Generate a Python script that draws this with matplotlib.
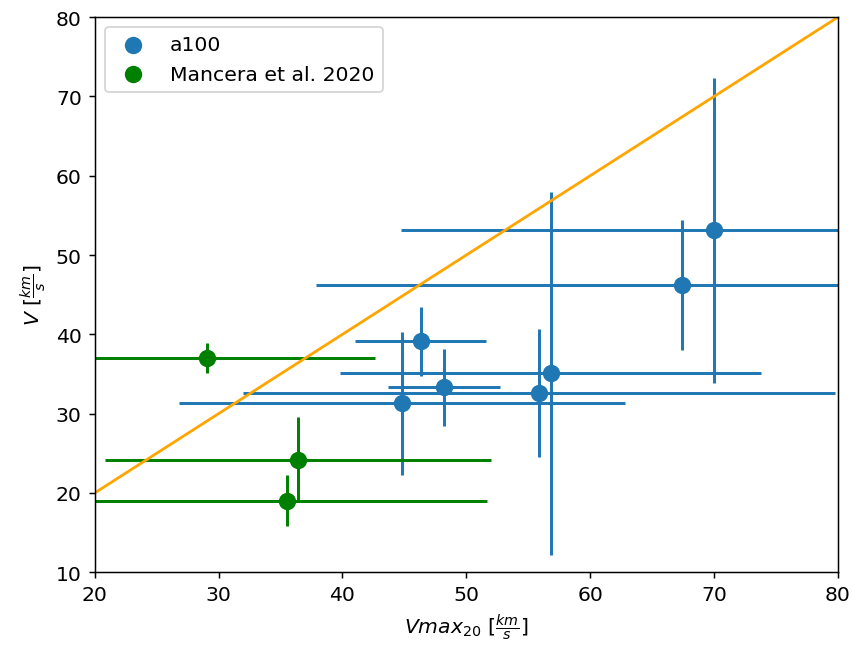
import matplotlib
matplotlib.use("Agg")
import matplotlib.pyplot as plt
import numpy as np

plt.rcParams['font.size'] = 11

# a100 sample: Vmax_20 vs V with errors
a100_vmax = [44.8, 46.3, 48.2, 55.9, 56.8, 67.4, 70.0]
a100_vmax_err = [18.0, 5.3, 4.5, 23.9, 17.0, 29.5, 25.3]
a100_v = [31.3, 39.1, 33.3, 32.6, 35.1, 46.2, 53.1]
a100_v_err = [9.0, 4.4, 4.8, 8.1, 22.9, 8.2, 19.2]

# Mancera et al. 2020
man_vmax = [29.1, 36.4, 35.5]
man_vmax_err = [13.5, 15.6, 16.2]
man_v = [37.0, 24.2, 19.0]
man_v_err = [1.9, 5.4, 3.2]

fig = plt.figure(figsize=(6.4, 4.8525), dpi=133.33)
ax = fig.add_axes([0.111, 0.114, 0.871, 0.858])

ax.scatter(a100_vmax, a100_v, s=70, color='#1f77b4', label='a100', zorder=3)
ax.errorbar(a100_vmax, a100_v, xerr=a100_vmax_err, yerr=a100_v_err,
            fmt='none', ecolor='#1f77b4', elinewidth=1.6)

ax.scatter(man_vmax, man_v, s=70, color='green', label='Mancera et al. 2020', zorder=3)
ax.errorbar(man_vmax, man_v, xerr=man_vmax_err, yerr=man_v_err,
            fmt='none', ecolor='green', elinewidth=1.6)

# 1:1 line
line = np.array([20, 80])
ax.plot(line, line, color='orange', lw=1.5)

ax.set_xlim(20, 80)
ax.set_ylim(10, 80)
ax.set_xlabel(r'$Vmax_{20}\ [\frac{km}{s}]$')
ax.set_ylabel(r'$V\ [\frac{km}{s}]$')
ax.legend(loc='upper left')

fig.savefig('out.png', dpi=133.33)
